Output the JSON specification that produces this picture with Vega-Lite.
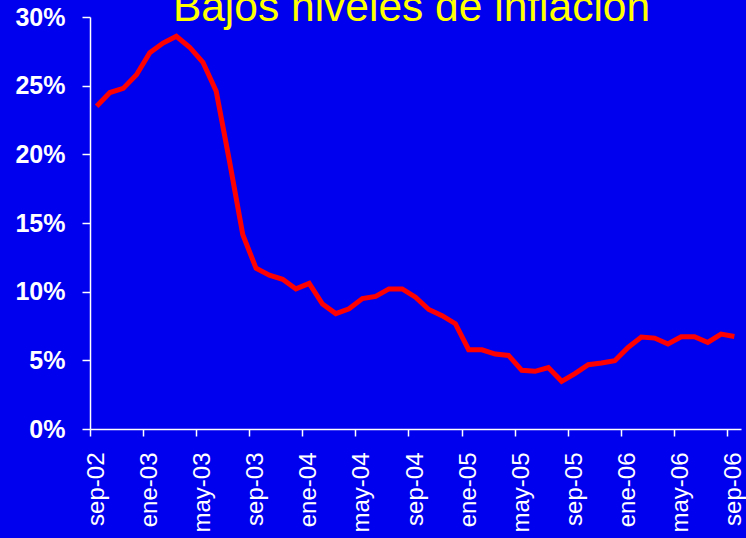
{
  "$schema": "https://vega.github.io/schema/vega-lite/v6.json",
  "width": 651,
  "height": 412,
  "autosize": {"type": "none"},
  "padding": {"left": 90, "top": 17, "right": 5, "bottom": 109},
  "background": "#0000EE",
  "title": {
    "text": "Bajos niveles de inflación",
    "color": "#FFFF00",
    "font": "Liberation Sans",
    "fontSize": 42.5,
    "fontWeight": "normal",
    "anchor": "middle",
    "frame": "group",
    "baseline": "alphabetic",
    "offset": -58,
    "dx": -4
  },
  "data": {
    "values": [
      {"mes": "sep-02", "inflacion": 0.235},
      {"mes": "oct-02", "inflacion": 0.245},
      {"mes": "nov-02", "inflacion": 0.248},
      {"mes": "dic-02", "inflacion": 0.258},
      {"mes": "ene-03", "inflacion": 0.274},
      {"mes": "feb-03", "inflacion": 0.281},
      {"mes": "mar-03", "inflacion": 0.286},
      {"mes": "abr-03", "inflacion": 0.278},
      {"mes": "may-03", "inflacion": 0.267},
      {"mes": "jun-03", "inflacion": 0.246},
      {"mes": "jul-03", "inflacion": 0.195},
      {"mes": "ago-03", "inflacion": 0.1415},
      {"mes": "sep-03", "inflacion": 0.117},
      {"mes": "oct-03", "inflacion": 0.112},
      {"mes": "nov-03", "inflacion": 0.109},
      {"mes": "dic-03", "inflacion": 0.102},
      {"mes": "ene-04", "inflacion": 0.106},
      {"mes": "feb-04", "inflacion": 0.091},
      {"mes": "mar-04", "inflacion": 0.084},
      {"mes": "abr-04", "inflacion": 0.0875},
      {"mes": "may-04", "inflacion": 0.095},
      {"mes": "jun-04", "inflacion": 0.0965},
      {"mes": "jul-04", "inflacion": 0.102},
      {"mes": "ago-04", "inflacion": 0.102},
      {"mes": "sep-04", "inflacion": 0.096},
      {"mes": "oct-04", "inflacion": 0.087},
      {"mes": "nov-04", "inflacion": 0.0825},
      {"mes": "dic-04", "inflacion": 0.0767},
      {"mes": "ene-05", "inflacion": 0.0577},
      {"mes": "feb-05", "inflacion": 0.0577},
      {"mes": "mar-05", "inflacion": 0.0546},
      {"mes": "abr-05", "inflacion": 0.0536},
      {"mes": "may-05", "inflacion": 0.0427},
      {"mes": "jun-05", "inflacion": 0.042},
      {"mes": "jul-05", "inflacion": 0.0448},
      {"mes": "ago-05", "inflacion": 0.0347},
      {"mes": "sep-05", "inflacion": 0.0403},
      {"mes": "oct-05", "inflacion": 0.0468},
      {"mes": "nov-05", "inflacion": 0.048},
      {"mes": "dic-05", "inflacion": 0.0497},
      {"mes": "ene-06", "inflacion": 0.0594},
      {"mes": "feb-06", "inflacion": 0.067},
      {"mes": "mar-06", "inflacion": 0.0662},
      {"mes": "abr-06", "inflacion": 0.0619},
      {"mes": "may-06", "inflacion": 0.0672},
      {"mes": "jun-06", "inflacion": 0.0672},
      {"mes": "jul-06", "inflacion": 0.063},
      {"mes": "ago-06", "inflacion": 0.0691},
      {"mes": "sep-06", "inflacion": 0.0674}
    ]
  },
  "mark": {"type": "line", "color": "#FF0000", "strokeWidth": 5},
  "encoding": {
    "x": {
      "field": "mes",
      "type": "ordinal",
      "sort": null,
      "scale": {"type": "band", "paddingInner": 0, "paddingOuter": 0},
      "axis": {
        "title": null,
        "values": ["sep-02", "ene-03", "may-03", "sep-03", "ene-04", "may-04", "sep-04", "ene-05", "may-05", "sep-05", "ene-06", "may-06", "sep-06"],
        "bandPosition": 0,
        "labelAngle": -90,
        "labelColor": "#FFFFFF",
        "labelFont": "Liberation Sans",
        "labelFontSize": 24,
        "labelPadding": 16,
        "domainColor": "#FFFFFF",
        "domainWidth": 1.5,
        "tickColor": "#FFFFFF",
        "tickWidth": 1.5,
        "tickSize": 7,
        "grid": false
      }
    },
    "y": {
      "field": "inflacion",
      "type": "quantitative",
      "scale": {"domain": [0, 0.3], "nice": false},
      "axis": {
        "title": null,
        "format": ".0%",
        "values": [0, 0.05, 0.1, 0.15, 0.2, 0.25, 0.3],
        "labelColor": "#FFFFFF",
        "labelFont": "Liberation Sans",
        "labelFontSize": 25,
        "labelFontWeight": "bold",
        "labelPadding": 17,
        "domainColor": "#FFFFFF",
        "domainWidth": 1.5,
        "tickColor": "#FFFFFF",
        "tickWidth": 1.5,
        "tickSize": 8,
        "grid": false
      }
    }
  },
  "config": {"view": {"stroke": null}}
}
